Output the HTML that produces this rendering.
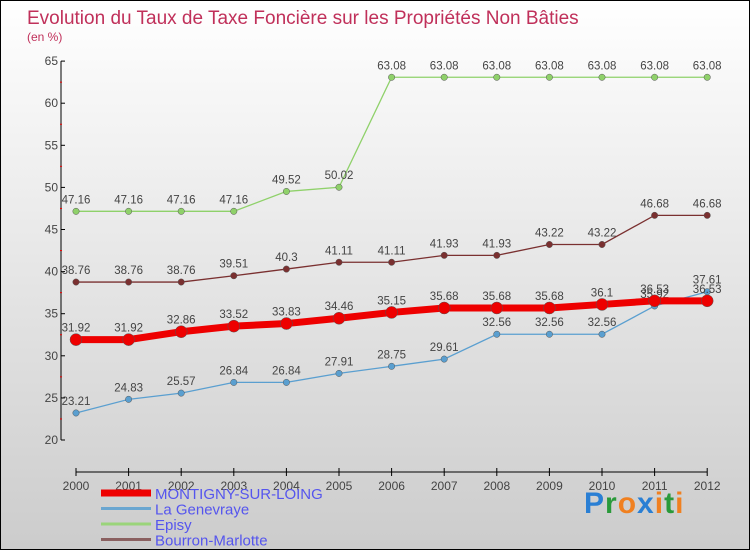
<!DOCTYPE html>
<html><head><meta charset="utf-8"><style>
body{margin:0}
#c{width:748px;height:548px;border:1px solid #000;background:linear-gradient(#fff,#ccc);position:relative;font-family:"Liberation Sans",sans-serif}
</style></head><body>
<div id="c">
<svg id="s" width="748" height="548" style="position:absolute;left:0;top:0">
<text x="26" y="23" font-size="19" fill="#c0305a">Evolution du Taux de Taxe Foncière sur les Propriétés Non Bâties</text>
<text x="26" y="40" font-size="12" fill="#c0305a">(en %)</text>
<g id="g"></g>
</svg>
<div style="position:absolute;left:583px;top:486px;font-size:30px;font-weight:bold;letter-spacing:1px"><span style="color:#2a7fd4">P</span><span style="color:#2a9a3a">r</span><span style="color:#f08020">o</span><span style="color:#2a7fd4">x</span><span style="color:#f08020">i</span><span style="color:#2a9a3a">t</span><span style="color:#f08020">i</span></div>
</div>
<script>
const years=[2000,2001,2002,2003,2004,2005,2006,2007,2008,2009,2010,2011,2012];
const yTicks=[20,25,30,35,40,45,50,55,60,65];
const montigny=[31.92,31.92,32.86,33.52,33.83,34.46,35.15,35.68,35.68,35.68,36.1,36.53,36.53];
const genevraye=[23.21,24.83,25.57,26.84,26.84,27.91,28.75,29.61,32.56,32.56,32.56,35.92,37.61];
const episy=[47.16,47.16,47.16,47.16,49.52,50.02,63.08,63.08,63.08,63.08,63.08,63.08,63.08];
const bourron=[38.76,38.76,38.76,39.51,40.3,41.11,41.11,41.93,41.93,43.22,43.22,46.68,46.68];
const NS='http://www.w3.org/2000/svg';
const g=document.getElementById('g');
const X=i=>75+i*52.6, Y=v=>439-(v-20)*8.42;
function el(t,a,p){const e=document.createElementNS(NS,t);for(const k in a)e.setAttribute(k,a[k]);(p||g).appendChild(e);return e;}
el('line',{x1:60,y1:Y(65),x2:60,y2:Y(20),stroke:'#000'});
yTicks.forEach(v=>{el('line',{x1:60,x2:64,y1:Y(v),y2:Y(v),stroke:'#000'});
 if(v<65)el('line',{x1:59,x2:61,y1:Y(v+2.5),y2:Y(v+2.5),stroke:'#e00'});
 const t=el('text',{x:57,y:Y(v)+4,'text-anchor':'end','font-size':12,fill:'#444'});t.textContent=v;
 });
el('line',{x1:X(0),x2:X(12),y1:471,y2:471,stroke:'#000'});
years.forEach((y,i)=>{el('line',{x1:X(i),x2:X(i),y1:467,y2:475,stroke:'#000'});
 const t=el('text',{x:X(i),y:489,'text-anchor':'middle','font-size':12,fill:'#444'});t.textContent=y;
 });
function series(d,col,w,r,name){
 const p=el('polyline',{points:d.map((v,i)=>X(i)+','+Y(v)).join(' '),fill:'none',stroke:col,'stroke-width':w});
 
 d.forEach((v,i)=>{const c=el('circle',{cx:X(i),cy:Y(v),r:r,fill:col,stroke:'#555','stroke-width':0.5});
  
  const t=el('text',{x:X(i),y:Y(v)-8,'text-anchor':'middle','font-size':11.5,fill:'#444'});t.textContent=v;
  });
}
series(episy,'#8fd16a',1.3,3.2,'episy');
series(bourron,'#7a3030',1.3,3.2,'bourron');
series(genevraye,'#5a9fd0',1.3,3.2,'genevraye');
series(montigny,'#ee0000',7,6,'montigny');
const leg=[['MONTIGNY-SUR-LOING','#ee0000',7],['La Genevraye','#6aa6d0',3],['Episy','#9ad47a',3],['Bourron-Marlotte','#8a6060',3]];
leg.forEach((l,i)=>{const y=492+i*15.5;
 el('line',{x1:100,x2:150,y1:y,y2:y,stroke:l[1],'stroke-width':l[2]});
 const t=el('text',{x:154,y:y+6,'font-size':15,fill:'#5555ee'});t.textContent=l[0];
 });
</script>
</body></html>
